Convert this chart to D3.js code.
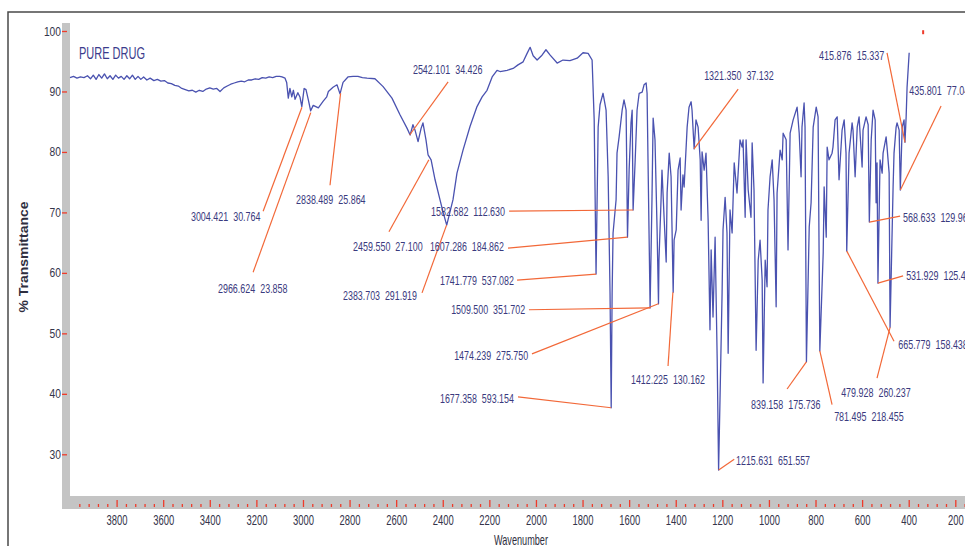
<!DOCTYPE html>
<html>
<head>
<meta charset="utf-8">
<script src="https://cdn.jsdelivr.net/npm/d3@7"></script>
<style>
  body { margin: 0; background: #fff; }
  svg text { white-space: pre; }
</style>
</head>
<body>
<svg id="chart" width="965" height="546"></svg>
<script>
// FTIR spectrum of the pure drug, [wavenumber cm-1, %T]
const spectrum = [
  [4000, 92.3],[3985, 92.5],[3970, 92.2],[3955, 92.4],[3940, 92.3],[3925, 92.6],[3912, 92.1],[3900, 92.7],
  [3888, 92.0],[3876, 92.8],[3864, 92.2],[3852, 92.9],[3840, 92.1],[3828, 92.6],[3816, 92.0],[3804, 92.7],
  [3792, 92.2],[3780, 92.5],[3768, 92.0],[3756, 92.6],[3744, 92.1],[3732, 92.7],[3720, 92.0],[3708, 92.5],
  [3696, 92.0],[3684, 92.4],[3670, 91.9],[3656, 92.2],[3640, 91.8],[3625, 92.0],[3610, 91.7],[3595, 91.8],
  [3580, 91.4],[3565, 91.3],[3550, 91.0],[3535, 90.9],[3520, 90.5],[3505, 90.3],[3490, 90.1],[3475, 90.2],
  [3460, 89.9],[3445, 90.2],[3430, 90.0],[3415, 90.4],[3400, 90.6],[3385, 90.4],[3370, 90.5],[3356, 90.0],
  [3340, 90.6],[3325, 90.9],[3310, 91.2],[3295, 91.4],[3280, 91.6],[3265, 91.7],[3250, 91.6],[3235, 91.9],
  [3220, 91.9],[3205, 92.1],[3190, 92.0],[3175, 92.3],[3160, 92.2],[3145, 92.4],[3130, 92.3],[3115, 92.5],
  [3100, 92.5],[3090, 92.4],[3077, 92.2],[3070, 91.5],[3063, 88.9],[3056, 90.5],[3048, 89.1],[3041, 90.2],
  [3034, 88.7],[3022, 89.8],[3013, 89.1],[3005, 87.5],[2995, 90.5],[2987, 90.3],[2977, 88.6],[2967, 86.8],
  [2956, 87.7],[2934, 87.3],[2913, 88.4],[2898, 89.1],[2891, 90.0],[2871, 90.7],[2854, 91.1],[2841, 89.6],
  [2828, 91.5],[2807, 92.4],[2785, 92.5],[2764, 92.5],[2745, 92.3],[2725, 92.2],[2691, 92.1],[2656, 90.8],
  [2618, 88.9],[2583, 86.1],[2553, 83.9],[2540, 82.8],[2528, 84.5],[2519, 83.6],[2506, 81.7],[2493, 83.9],
  [2485, 84.8],[2472, 82.0],[2463, 79.5],[2450, 78.7],[2433, 75.4],[2412, 72.1],[2399, 70.1],[2383, 67.9],
  [2369, 70.1],[2356, 72.1],[2339, 76.5],[2313, 80.3],[2283, 84.2],[2253, 87.5],[2231, 89.1],[2210, 90.2],
  [2188, 92.4],[2167, 93.5],[2154, 93.3],[2124, 93.5],[2098, 93.8],[2077, 94.4],[2055, 94.9],[2038, 96.3],
  [2025, 97.3],[2012, 95.9],[1995, 95.2],[1974, 96.0],[1957, 96.9],[1939, 96.0],[1909, 94.7],[1884, 95.2],
  [1854, 95.1],[1823, 95.5],[1798, 96.4],[1776, 96.3],[1759, 95.2],
  [1750, 85.3],[1742, 59.8],[1733, 84.1],[1725, 87.8],[1712, 89.7],[1699, 86.9],[1690, 75.9],[1682, 56.7],
  [1677, 37.7],[1673, 56.7],[1669, 66.6],[1656, 72.1],[1652, 79.8],[1643, 82.5],[1630, 86.9],[1622, 88.6],
  [1613, 86.9],[1607, 65.9],[1600, 77.0],[1592, 84.8],[1587, 86.9],[1583, 70.4],[1574, 78.7],[1566, 86.9],
  [1557, 89.7],[1544, 89.9],[1536, 91.1],[1527, 91.4],[1523, 89.7],[1519, 78.7],[1510, 54.2],[1502, 72.1],
  [1497, 85.6],[1489, 82.0],[1480, 67.1],[1474, 54.9],[1472, 62.1],[1463, 72.1],[1459, 77.0],[1450, 69.2],
  [1441, 61.8],[1437, 73.2],[1428, 79.8],[1420, 75.9],[1416, 67.6],[1411, 56.8],[1407, 65.4],[1398, 67.1],
  [1390, 77.0],[1381, 79.0],[1377, 70.4],[1369, 76.2],[1364, 74.2],[1351, 84.1],[1343, 87.4],[1334, 88.3],
  [1330, 86.9],[1321, 80.5],[1313, 85.3],[1304, 84.1],[1295, 78.7],[1291, 68.7],[1287, 80.0],[1278, 77.0],
  [1270, 79.8],[1261, 68.7],[1253, 50.6],[1248, 63.8],[1240, 52.7],[1231, 65.9],[1222, 45.6],[1216, 27.4],
  [1210, 39.0],[1201, 56.7],[1197, 67.1],[1188, 72.5],[1180, 66.6],[1175, 46.7],[1167, 70.4],[1158, 66.6],
  [1149, 78.2],[1137, 73.2],[1124, 82.0],[1115, 80.8],[1111, 82.0],[1102, 69.2],[1098, 82.0],[1089, 73.7],
  [1077, 69.2],[1072, 81.5],[1064, 73.7],[1055, 47.2],[1046, 62.1],[1038, 65.4],[1029, 58.8],[1025, 41.8],
  [1016, 62.1],[1008, 57.7],[1004, 70.4],[995, 75.9],[986, 78.7],[978, 72.1],[969, 54.4],[965, 73.2],
  [952, 80.3],[943, 78.7],[939, 83.1],[926, 82.0],[918, 63.8],[909, 83.1],[896, 85.3],[879, 87.4],
  [870, 83.1],[862, 75.9],[858, 84.1],[849, 88.1],[845, 84.1],[839, 45.3],[827, 67.6],[819, 71.6],
  [810, 84.1],[797, 87.4],[789, 85.8],[781.5, 47.1],[767, 63.3],[763, 74.2],[754, 65.9],[750, 80.8],
  [742, 78.7],[729, 79.8],[725, 80.8],[716, 85.3],[707, 85.8],[699, 75.4],[686, 83.6],[677, 85.3],
  [669, 79.8],[666, 63.6],[656, 79.8],[643, 84.8],[639, 83.6],[630, 75.9],[621, 84.1],[613, 85.8],
  [600, 77.5],[596, 83.6],[583, 85.8],[574, 84.5],[569, 68.4],[561, 82.0],[553, 86.9],[544, 85.3],
  [540, 71.6],[536, 78.2],[532, 58.3],[523, 78.7],[514, 76.5],[510, 79.8],[497, 82.5],[493, 80.8],
  [484, 76.5],[480, 51.0],[467, 74.2],[463, 79.8],[454, 84.1],[450, 84.8],[441, 83.6],[436, 73.7],
  [428, 84.1],[420, 85.3],[416, 81.6],[411, 85.8],[407, 90.7],[398, 96.4]
];

// picked peaks: wavenumber, intensity printed next to it, %T where the leader touches
const peakWavenumbers = [3004.421, 2966.624, 2838.489, 2542.101, 2459.550, 2383.703, 1582.682, 1607.286,
  1741.779, 1509.500, 1474.239, 1412.225, 1677.358, 1321.350, 1215.631, 839.158, 781.495, 479.928,
  665.779, 568.633, 531.929, 435.801, 415.876];
const peakIntensities = ["30.764", "23.858", "25.864", "34.426", "27.100", "291.919", "112.630", "184.862",
  "537.082", "351.702", "275.750", "130.162", "593.154", "37.132", "651.557", "175.736", "218.455", "260.237",
  "158.438", "129.967", "125.436", "77.043", "15.337"];
const peakTransmittance = [87.4, 86.5, 89.7, 82.8, 78.7, 67.9, 70.4, 65.9, 59.8, 54.2, 54.9, 56.8, 37.7,
  80.5, 27.4, 45.3, 47.1, 51.0, 63.6, 68.4, 58.3, 73.7, 81.6];
// where each label text starts and where its leader begins, in [wavenumber, %T]
const labelAnchors = [[3481, 69.4],[3365, 57.5],[3030, 72.2],[2528, 93.6],[2785, 64.3],[2828, 56.2],
  [2450, 70.2],[2455, 64.3],[2412, 58.8],[2364, 53.9],[2351, 46.4],[1592, 42.4],[2412, 39.3],[1278, 92.6],
  [1141, 28.9],[1077, 38.2],[720, 36.2],[690, 40.3],[445, 48.1],[424, 69.1],[411, 59.5],[398, 90.1],[785, 96.0]];
const leaderStarts = [[3171, 70.2],[3214, 60.1],[2884, 74.5],[2377, 91.6],[2631, 66.8],[2489, 56.7],
  [2115, 70.2],[2120, 64.1],[2081, 58.8],[2030, 53.9],[2017, 46.6],[1433, 44.6],[2077, 39.5],[1132, 90.4],
  [1149, 29.2],[922, 40.8],[729, 38.2],[536, 42.6],[463, 48.7],[437, 69.4],[424, 59.5],[261, 87.6],[493, 96.4]];

const yTicks = [100, 90, 80, 70, 60, 50, 40, 30];
const xMajorTicks = d3.range(3800, 150, -200);
const xMinorTicks = d3.range(3960, 150, -40).filter(d => d % 200 !== 0);
const stray = [[338, 99.8]];

const W = 965, H = 546;
const narrow = "'Liberation Sans Narrow', 'Arial Narrow', 'Liberation Sans', Arial, sans-serif";
const lineBlue = "#4a52b0", textBlue = "#3a3a7e", leaderRed = "#f26838", tickRed = "#ee3b2b", barGray = "#c4c4c4";

const svg = d3.select("#chart");

const x = d3.scaleLinear().domain([4000, 200]).range([70, 955.3]);
const y = d3.scaleLinear().domain([100, 30]).range([31, 454.3]);

// outer frame (cut off at right and bottom)
svg.append("path")
    .attr("d", "M8," + H + "V12H" + W)
    .attr("fill", "none")
    .attr("stroke", "#4a4a4a")
    .attr("stroke-width", 1.5);

// gray axis bars
svg.append("rect").attr("x", 62).attr("y", 23).attr("width", 8).attr("height", 486).attr("fill", barGray);
svg.append("rect").attr("x", 62).attr("y", 496).attr("width", W - 62).attr("height", 13).attr("fill", barGray);

// y axis
svg.append("g")
    .attr("transform", "translate(67,0)")
    .call(d3.axisLeft(y).tickValues(yTicks).tickSize(5).tickPadding(1))
    .call(g => g.select(".domain").remove())
    .call(g => g.selectAll(".tick line").attr("stroke", tickRed).attr("stroke-width", 1.3))
    .call(g => g.selectAll(".tick text")
        .attr("font-family", narrow)
        .attr("font-size", 12.5)
        .attr("fill", "#34344a")
        .attr("textLength", d => String(d).length * 5.7)
        .attr("lengthAdjust", "spacingAndGlyphs"));

// x axis: major and minor ticks inside the gray bar
svg.append("g")
    .attr("transform", "translate(0,500)")
    .call(d3.axisBottom(x).tickValues(xMajorTicks).tickSize(7).tickPadding(0).tickFormat(d3.format("d")))
    .call(g => g.select(".domain").remove())
    .call(g => g.selectAll(".tick line").attr("stroke", tickRed).attr("stroke-width", 1.3))
    .call(g => g.selectAll(".tick text")
        .attr("y", 19.5)
        .attr("dy", "0.35em")
        .attr("font-family", narrow)
        .attr("font-size", 15)
        .attr("fill", "#34344a")
        .attr("textLength", d => String(d).length * 5.25)
        .attr("lengthAdjust", "spacingAndGlyphs"));

svg.append("g")
    .attr("transform", "translate(0,504)")
    .call(d3.axisBottom(x).tickValues(xMinorTicks).tickSize(3).tickFormat(""))
    .call(g => g.select(".domain").remove())
    .call(g => g.selectAll(".tick line").attr("stroke", tickRed).attr("stroke-width", 1.3));

// axis titles
svg.append("text")
    .attr("x", 521).attr("y", 539)
    .attr("text-anchor", "middle")
    .attr("dominant-baseline", "central")
    .attr("font-family", narrow)
    .attr("font-size", 15)
    .attr("fill", "#2e2e3e")
    .attr("textLength", 54)
    .attr("lengthAdjust", "spacingAndGlyphs")
    .text("Wavenumber");

svg.append("text")
    .attr("transform", "translate(24,257) rotate(-90)")
    .attr("text-anchor", "middle")
    .attr("dominant-baseline", "central")
    .attr("font-family", "'Liberation Sans', Arial, sans-serif")
    .attr("font-weight", "bold")
    .attr("font-size", 12.5)
    .attr("fill", "#2e2e3e")
    .attr("textLength", 111)
    .attr("lengthAdjust", "spacingAndGlyphs")
    .text("% Transmittance");

svg.append("text")
    .attr("x", 79).attr("y", 53)
    .attr("dominant-baseline", "central")
    .attr("font-family", narrow)
    .attr("font-size", 16)
    .attr("fill", "#3b3b8c")
    .attr("textLength", 66)
    .attr("lengthAdjust", "spacingAndGlyphs")
    .text("PURE DRUG");

// the spectrum
const line = d3.line()
    .x(d => x(d[0]))
    .y(d => y(d[1]));

svg.append("path")
    .datum(spectrum)
    .attr("d", line)
    .attr("fill", "none")
    .attr("stroke", lineBlue)
    .attr("stroke-width", 1.3)
    .attr("stroke-linejoin", "round");

// peak leaders and labels
peakWavenumbers.forEach((wn, i) => {
    const label = wn.toFixed(3) + "  " + peakIntensities[i];
    svg.append("line")
        .attr("x1", x(leaderStarts[i][0]))
        .attr("y1", y(leaderStarts[i][1]))
        .attr("x2", x(wn))
        .attr("y2", y(peakTransmittance[i]))
        .attr("stroke", leaderRed)
        .attr("stroke-width", 1.2);
    svg.append("text")
        .attr("x", x(labelAnchors[i][0]))
        .attr("y", y(labelAnchors[i][1]))
        .attr("dominant-baseline", "central")
        .attr("font-family", narrow)
        .attr("font-size", 13)
        .attr("fill", textBlue)
        .attr("textLength", label.length * 4.35)
        .attr("lengthAdjust", "spacingAndGlyphs")
        .text(label);
});

svg.selectAll("rect.stray")
    .data(stray)
    .join("rect")
    .attr("class", "stray")
    .attr("x", d => x(d[0]) - 1)
    .attr("y", d => y(d[1]) - 2)
    .attr("width", 2)
    .attr("height", 4)
    .attr("fill", tickRed);
</script>
</body>
</html>
